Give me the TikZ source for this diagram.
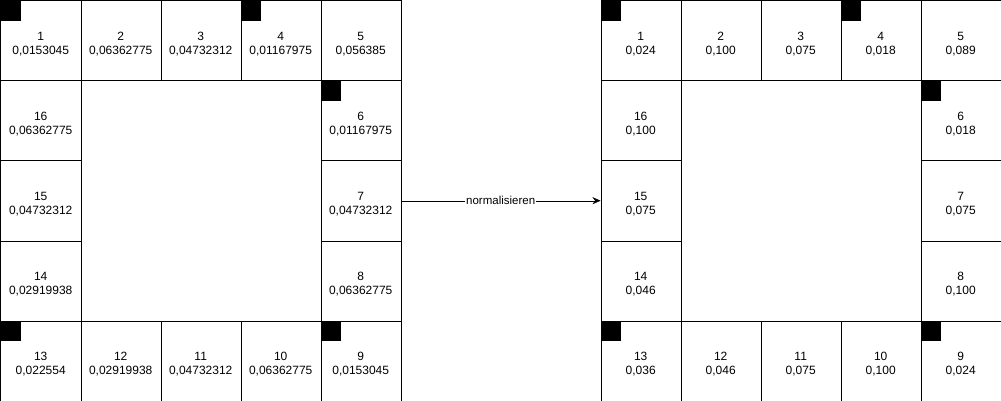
\documentclass[tikz,border=0pt]{standalone}
\usepackage{fontspec}
\setmainfont{Liberation Sans}
\usetikzlibrary{arrows.meta}

\begin{document}
\begin{tikzpicture}[x=1pt, y=-1pt,
	cell/.style={shape=rectangle, draw=black, anchor=north west, minimum width=80pt, minimum height=80pt, inner sep=0pt, align=center, font=\fontsize{12}{14}\selectfont, text height=28.5pt},
	corner/.style={shape=rectangle, fill=black, anchor=north west, minimum width=20pt, minimum height=20pt, inner sep=0pt}]
	
	\useasboundingbox (-0.5, -0.5) rectangle (1000.5, 400.5);
	
	% left board
	\node[cell] (l1) at (0, 0)       {1\\0,0153045};
	\node[cell] (l2) at (80, 0)      {2\\0,06362775};
	\node[cell] (l3) at (160, 0)     {3\\0,04732312};
	\node[cell] (l4) at (240, 0)     {4\\0,01167975};
	\node[cell] (l5) at (320, 0)     {5\\0,056385};
	\node[cell] (l6) at (320, 80)    {6\\0,01167975};
	\node[cell] (l7) at (320, 160)   {7\\0,04732312};
	\node[cell] (l8) at (320, 240)   {8\\0,06362775};
	\node[cell] (l9) at (320, 320)   {9\\0,0153045};
	\node[cell] (l10) at (240, 320)  {10\\0,06362775};
	\node[cell] (l11) at (160, 320)  {11\\0,04732312};
	\node[cell] (l12) at (80, 320)   {12\\0,02919938};
	\node[cell] (l13) at (0, 320)    {13\\0,022554};
	\node[cell] (l14) at (0, 240)    {14\\0,02919938};
	\node[cell] (l15) at (0, 160)    {15\\0,04732312};
	\node[cell] (l16) at (0, 80)     {16\\0,06362775};
	
	\node[corner] (lc1) at (l1.north west)   {};
	\node[corner] (lc4) at (l4.north west)   {};
	\node[corner] (lc6) at (l6.north west)   {};
	\node[corner] (lc9) at (l9.north west)   {};
	\node[corner] (lc13) at (l13.north west) {};
	
	% right board
	\node[cell] (r1) at (600, 0)     {1\\0,024};
	\node[cell] (r2) at (680, 0)     {2\\0,100};
	\node[cell] (r3) at (760, 0)     {3\\0,075};
	\node[cell] (r4) at (840, 0)     {4\\0,018};
	\node[cell] (r5) at (920, 0)     {5\\0,089};
	\node[cell] (r6) at (920, 80)    {6\\0,018};
	\node[cell] (r7) at (920, 160)   {7\\0,075};
	\node[cell] (r8) at (920, 240)   {8\\0,100};
	\node[cell] (r9) at (920, 320)   {9\\0,024};
	\node[cell] (r10) at (840, 320)  {10\\0,100};
	\node[cell] (r11) at (760, 320)  {11\\0,075};
	\node[cell] (r12) at (680, 320)  {12\\0,046};
	\node[cell] (r13) at (600, 320)  {13\\0,036};
	\node[cell] (r14) at (600, 240)  {14\\0,046};
	\node[cell] (r15) at (600, 160)  {15\\0,075};
	\node[cell] (r16) at (600, 80)   {16\\0,100};
	
	\node[corner] (rc1) at (r1.north west)   {};
	\node[corner] (rc4) at (r4.north west)   {};
	\node[corner] (rc6) at (r6.north west)   {};
	\node[corner] (rc9) at (r9.north west)   {};
	\node[corner] (rc13) at (r13.north west) {};
	
	\draw[-{Stealth[length=8pt, width=7pt]}] (l7.east) -- node[fill=white, inner sep=1pt, font=\fontsize{11.5}{13}\selectfont] {normalisieren} (r15.west);

\end{tikzpicture}
\end{document}
